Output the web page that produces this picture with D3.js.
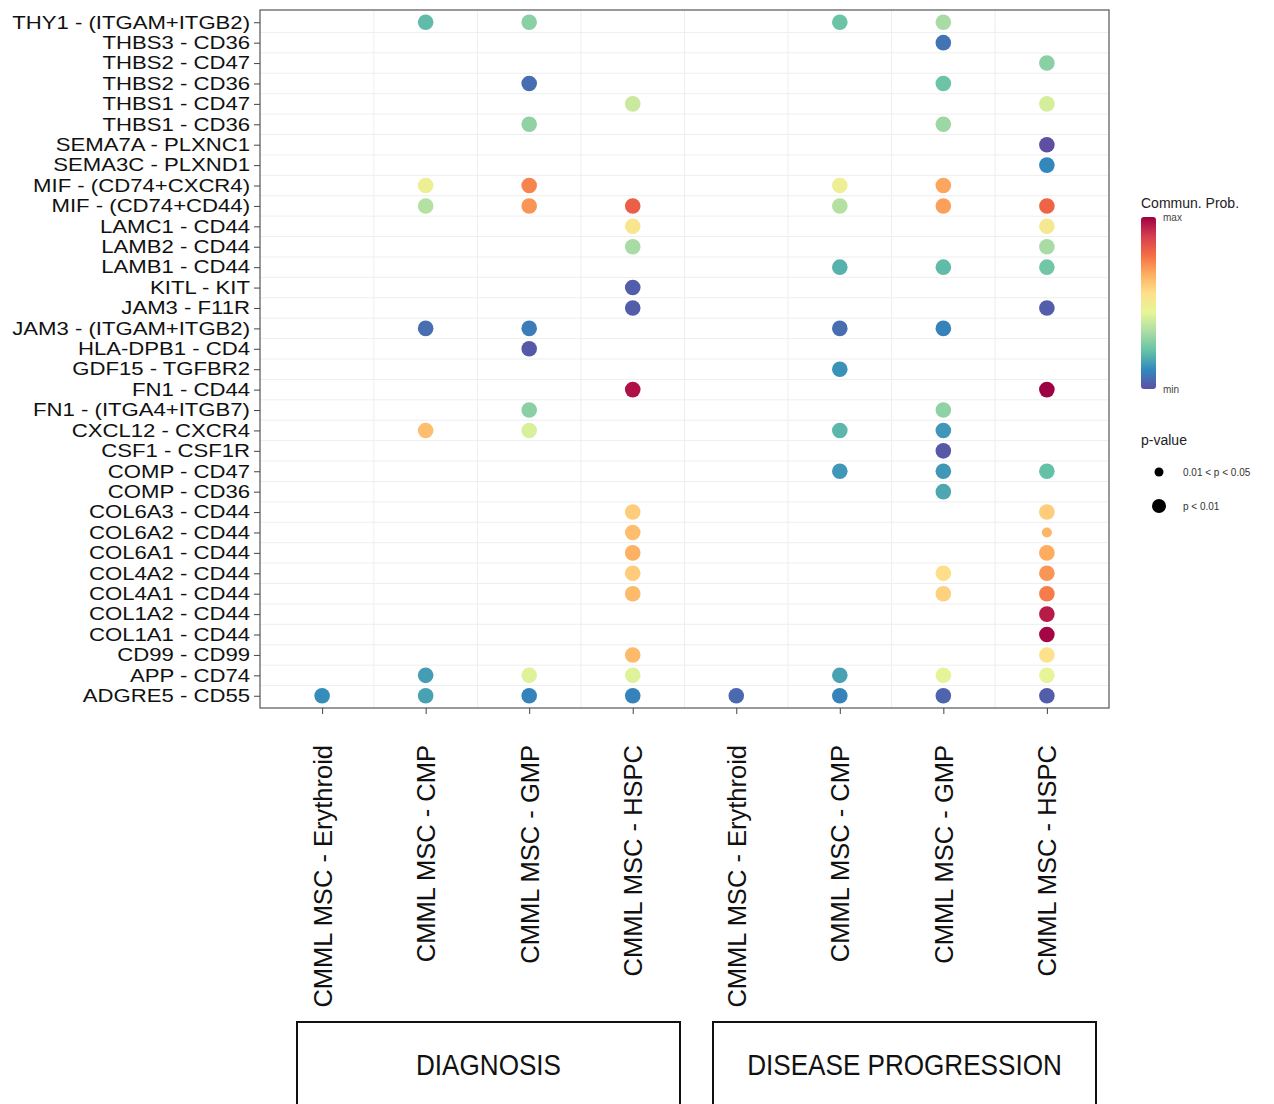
<!DOCTYPE html>
<html>
<head>
<meta charset="utf-8">
<script src="https://cdn.jsdelivr.net/npm/d3@7"></script>
<style>
  body { margin: 0; background: #fff; }
  svg { display: block; }
</style>
</head>
<body>
<svg width="1274" height="1104"></svg>
<script>
// ligand - receptor pairs, top to bottom
const pairs = [
  "THY1 - (ITGAM+ITGB2)", "THBS3 - CD36", "THBS2 - CD47", "THBS2 - CD36",
  "THBS1 - CD47", "THBS1 - CD36", "SEMA7A - PLXNC1", "SEMA3C - PLXND1",
  "MIF - (CD74+CXCR4)", "MIF - (CD74+CD44)", "LAMC1 - CD44", "LAMB2 - CD44",
  "LAMB1 - CD44", "KITL - KIT", "JAM3 - F11R", "JAM3 - (ITGAM+ITGB2)",
  "HLA-DPB1 - CD4", "GDF15 - TGFBR2", "FN1 - CD44", "FN1 - (ITGA4+ITGB7)",
  "CXCL12 - CXCR4", "CSF1 - CSF1R", "COMP - CD47", "COMP - CD36",
  "COL6A3 - CD44", "COL6A2 - CD44", "COL6A1 - CD44", "COL4A2 - CD44",
  "COL4A1 - CD44", "COL1A2 - CD44", "COL1A1 - CD44", "CD99 - CD99",
  "APP - CD74", "ADGRE5 - CD55"
];

// the two groups share target names, a trailing space keeps them apart
const targets = [
  "CMML MSC - Erythroid", "CMML MSC - CMP", "CMML MSC - GMP", "CMML MSC - HSPC",
  "CMML MSC - Erythroid ", "CMML MSC - CMP ", "CMML MSC - GMP ", "CMML MSC - HSPC "
];

const groups = ["DIAGNOSIS", "DISEASE PROGRESSION"];

// communication probability (0 = min, 1 = max), one value per pair, null = none
const _ = null;
const dxErythroid = [_,_,_,_,_,_,_,_,_,_,_,_,_,_,_,_,_,_,_,_,_,_,_,_,_,_,_,_,_,_,_,_,_,0.12];
const dxCMP       = [0.21,_,_,_,_,_,_,_,0.48,0.35,_,_,_,_,_,0.06,_,_,_,_,0.63,_,_,_,_,_,_,_,_,_,_,_,0.15,0.16];
const dxGMP       = [0.28,_,_,0.06,_,0.29,_,_,0.74,0.71,_,_,_,_,_,0.09,0.02,_,_,0.28,0.42,_,_,_,_,_,_,_,_,_,_,_,0.43,0.10];
const dxHSPC      = [_,_,_,_,0.39,_,_,_,_,0.81,0.53,0.33,_,0.03,0.03,_,_,_,0.97,_,_,_,_,_,0.60,0.63,0.66,0.60,0.64,_,_,0.64,0.43,0.10];
const dpErythroid = [_,_,_,_,_,_,_,_,_,_,_,_,_,_,_,_,_,_,_,_,_,_,_,_,_,_,_,_,_,_,_,_,_,0.05];
const dpCMP       = [0.23,_,_,_,_,_,_,_,0.48,0.35,_,_,0.19,_,_,0.06,_,0.13,_,_,0.20,_,0.14,_,_,_,_,_,_,_,_,_,0.16,0.10];
const dpGMP       = [0.33,0.07,_,0.23,_,0.31,_,_,0.68,0.69,_,_,0.21,_,_,0.10,_,_,_,0.29,0.14,0.02,0.14,0.17,_,_,_,0.56,0.59,_,_,_,0.44,0.04];
const dpHSPC      = [_,_,0.28,_,0.41,_,0.00,0.11,_,0.80,0.51,0.33,0.24,_,0.03,_,_,_,1.00,_,_,_,0.22,_,0.60,0.65,0.67,0.71,0.75,0.95,0.99,0.55,0.45,0.03];

const columns = [dxErythroid, dxCMP, dxGMP, dxHSPC, dpErythroid, dpCMP, dpGMP, dpHSPC];

// dots with 0.01 < p < 0.05 (all others p < 0.01)
const weakPairs = ["COL6A2 - CD44"];
const weakTargets = ["CMML MSC - HSPC "];

const pLabels = ["0.01 < p < 0.05", "p < 0.01"];

// palette used by CellChat (rev Spectral, 10 classes)
const palette = ["#5E4FA2", "#3288BD", "#66C2A5", "#ABDDA4", "#E6F598",
                 "#FEE08B", "#FDAE61", "#F46D43", "#D53E4F", "#9E0142"];

const dots = [];
columns.forEach((vals, ci) => {
  vals.forEach((v, ri) => {
    if (v === null) return;
    const weak = weakPairs.some((p, k) => p === pairs[ri] && weakTargets[k] === targets[ci]);
    dots.push({ pair: pairs[ri], target: targets[ci], value: v, weak: weak });
  });
});

const svg = d3.select("svg");
const margin = { left: 260, right: 1109, top: 10, bottom: 708 };

const x = d3.scalePoint().domain(targets).range([margin.left, margin.right]).padding(0.6);
const y = d3.scalePoint().domain(pairs).range([margin.top, margin.bottom]).padding(0.6);
const color = d3.scaleLinear()
  .domain(d3.range(palette.length).map(i => i / (palette.length - 1)))
  .range(palette)
  .interpolate(d3.interpolateRgb);
const size = d => d ? 5 : 7.8;

// grid lines between cells
const grid = svg.append("g");
targets.slice(0, -1).forEach(t => {
  grid.append("line")
    .attr("x1", x(t) + x.step() / 2).attr("x2", x(t) + x.step() / 2)
    .attr("y1", margin.top).attr("y2", margin.bottom)
    .attr("stroke", "#eeeeee").attr("stroke-width", 1);
});
pairs.slice(0, -1).forEach(p => {
  grid.append("line")
    .attr("y1", y(p) + y.step() / 2).attr("y2", y(p) + y.step() / 2)
    .attr("x1", margin.left).attr("x2", margin.right)
    .attr("stroke", "#eeeeee").attr("stroke-width", 1);
});

svg.append("rect")
  .attr("x", margin.left).attr("y", margin.top)
  .attr("width", margin.right - margin.left).attr("height", margin.bottom - margin.top)
  .attr("fill", "none").attr("stroke", "#555").attr("stroke-width", 1.2);

// axes
const yAxis = svg.append("g")
  .attr("transform", `translate(${margin.left},0)`)
  .call(d3.axisLeft(y).tickSize(6));
yAxis.select(".domain").remove();
yAxis.selectAll(".tick line").attr("stroke", "#444");
const stretch = 1.23;
yAxis.selectAll("text")
  .attr("fill", "#111")
  .attr("x", -10 / stretch)
  .attr("transform", `scale(${stretch},1)`)
  .style("font-family", "Liberation Sans, Arial")
  .style("font-size", "18px");

const xAxis = svg.append("g")
  .attr("transform", `translate(0,${margin.bottom})`)
  .call(d3.axisBottom(x).tickSize(6));
xAxis.select(".domain").remove();
xAxis.selectAll(".tick line").attr("stroke", "#444");
xAxis.selectAll("text")
  .attr("fill", "#111")
  .attr("transform", "rotate(-90)")
  .attr("x", -37).attr("y", 0).attr("dy", "0.35em")
  .style("text-anchor", "end")
  .style("font-family", "Liberation Sans, Arial")
  .style("font-size", "25.5px");

// dots
svg.append("g")
  .selectAll("circle")
  .data(dots)
  .join("circle")
  .attr("cx", d => x(d.target))
  .attr("cy", d => y(d.pair))
  .attr("r", d => size(d.weak))
  .attr("fill", d => color(d.value));

// colour legend
const leg = svg.append("g").style("font-family", "Liberation Sans, Arial");
leg.append("text").attr("x", 1141).attr("y", 208)
  .style("font-size", "14px").attr("fill", "#222").text("Commun. Prob.");

const defs = svg.append("defs");
const grad = defs.append("linearGradient").attr("id", "cgrad")
  .attr("x1", 0).attr("x2", 0).attr("y1", 1).attr("y2", 0);
palette.forEach((c, i) => {
  grad.append("stop").attr("offset", i / (palette.length - 1)).attr("stop-color", c);
});
leg.append("rect").attr("x", 1141).attr("y", 217).attr("width", 15).attr("height", 172)
  .attr("rx", 3).attr("fill", "url(#cgrad)");
leg.append("text").attr("x", 1163).attr("y", 221).style("font-size", "10px").attr("fill", "#444").text("max");
leg.append("text").attr("x", 1163).attr("y", 393).style("font-size", "10px").attr("fill", "#444").text("min");

// p-value legend
leg.append("text").attr("x", 1141).attr("y", 445)
  .style("font-size", "14px").attr("fill", "#222").text("p-value");
const pl = leg.selectAll(".pl").data(pLabels).join("g")
  .attr("transform", (d, i) => `translate(1159,${472 + i * 34})`);
pl.append("circle").attr("r", (d, i) => i === 0 ? 4.5 : 7).attr("fill", "#000");
pl.append("text").attr("x", 24).attr("dy", "0.35em")
  .style("font-size", "10px").attr("fill", "#333").text(d => d);

// group boxes
const boxes = svg.append("g");
const boxX = [[297, 680], [713, 1096]];
const squeeze = 0.87;
groups.forEach((g, i) => {
  boxes.append("rect")
    .attr("x", boxX[i][0]).attr("y", 1022)
    .attr("width", boxX[i][1] - boxX[i][0]).attr("height", 100)
    .attr("fill", "none").attr("stroke", "#111").attr("stroke-width", 2);
  boxes.append("text")
    .attr("transform", `translate(${(boxX[i][0] + boxX[i][1]) / 2},1075) scale(${squeeze},1)`)
    .attr("text-anchor", "middle")
    .style("font-family", "Liberation Sans, Arial")
    .style("font-size", "30px").attr("fill", "#111")
    .text(g);
});
</script>
</body>
</html>
